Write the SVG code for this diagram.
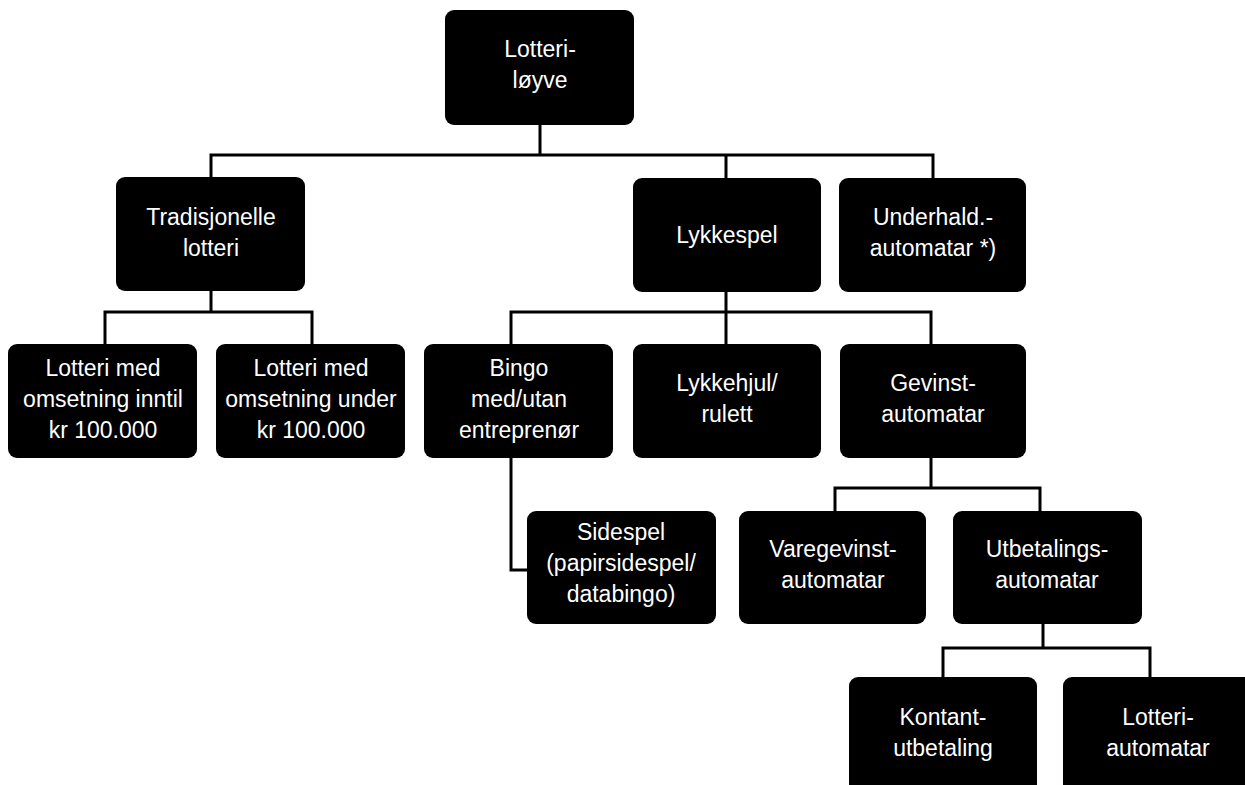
<svg xmlns="http://www.w3.org/2000/svg" width="1245" height="785" viewBox="0 0 1245 785">
<style>
.box{fill:#000;}
.t{fill:#fff;font-family:"Liberation Sans",Arial,sans-serif;font-size:23px;text-anchor:middle;}
.c{fill:none;stroke:#000;stroke-width:3;stroke-linecap:square;}
</style>
<rect width="1245" height="785" fill="#fff"/>
<g id="connectors">
<path class="c" d="M540 125V155M211 155H933M211 155V177M726 155V178M933 155V178"/>
<path class="c" d="M211 291V312M105 312H312M105 312V344M312 312V344"/>
<path class="c" d="M726 292V312M511 312H931M511 312V344M726 312V344M931 312V344"/>
<path class="c" d="M511 458V570H527"/>
<path class="c" d="M931 458V488M835 488H1040M835 488V511M1040 488V511"/>
<path class="c" d="M1043 624V648M943 648H1150M943 648V677M1150 648V677"/>
</g>
<g id="n-root"><rect class="box" x="445" y="10" width="189" height="115" rx="9"/><text class="t" x="540" y="57">Lotteri-</text><text class="t" x="540" y="88">løyve</text></g>
<g id="n-trad"><rect class="box" x="116" y="177" width="189" height="114" rx="9"/><text class="t" x="211" y="225">Tradisjonelle</text><text class="t" x="211" y="256">lotteri</text></g>
<g id="n-lykkespel"><rect class="box" x="633" y="178" width="188" height="114" rx="9"/><text class="t" x="727" y="243">Lykkespel</text></g>
<g id="n-underhald"><rect class="box" x="839" y="178" width="187" height="114" rx="9"/><text class="t" x="933" y="225">Underhald.-</text><text class="t" x="933" y="256">automatar *)</text></g>
<g id="n-lot1"><rect class="box" x="8" y="344" width="189" height="114" rx="9"/><text class="t" x="103" y="376">Lotteri med</text><text class="t" x="103" y="407">omsetning inntil</text><text class="t" x="103" y="438">kr 100.000</text></g>
<g id="n-lot2"><rect class="box" x="216" y="344" width="189" height="114" rx="9"/><text class="t" x="311" y="376">Lotteri med</text><text class="t" x="311" y="407">omsetning under</text><text class="t" x="311" y="438">kr 100.000</text></g>
<g id="n-bingo"><rect class="box" x="424" y="344" width="189" height="114" rx="9"/><text class="t" x="519" y="376">Bingo</text><text class="t" x="519" y="407">med/utan</text><text class="t" x="519" y="438">entreprenør</text></g>
<g id="n-lykkehjul"><rect class="box" x="633" y="344" width="188" height="114" rx="9"/><text class="t" x="727" y="391">Lykkehjul/</text><text class="t" x="727" y="422">rulett</text></g>
<g id="n-gevinst"><rect class="box" x="840" y="344" width="186" height="114" rx="9"/><text class="t" x="933" y="391">Gevinst-</text><text class="t" x="933" y="422">automatar</text></g>
<g id="n-sidespel"><rect class="box" x="527" y="511" width="189" height="113" rx="9"/><text class="t" x="621" y="540">Sidespel</text><text class="t" x="621" y="571">(papirsidespel/</text><text class="t" x="621" y="602">databingo)</text></g>
<g id="n-vare"><rect class="box" x="739" y="511" width="187" height="113" rx="9"/><text class="t" x="833" y="557">Varegevinst-</text><text class="t" x="833" y="588">automatar</text></g>
<g id="n-utbet"><rect class="box" x="953" y="511" width="189" height="113" rx="9"/><text class="t" x="1047" y="557">Utbetalings-</text><text class="t" x="1047" y="588">automatar</text></g>
<g id="n-kontant"><rect class="box" x="849" y="677" width="188" height="120" rx="9"/><text class="t" x="943" y="725">Kontant-</text><text class="t" x="943" y="756">utbetaling</text></g>
<g id="n-lotteriaut"><rect class="box" x="1063" y="677" width="190" height="120" rx="9"/><text class="t" x="1158" y="725">Lotteri-</text><text class="t" x="1158" y="756">automatar</text></g>
</svg>
